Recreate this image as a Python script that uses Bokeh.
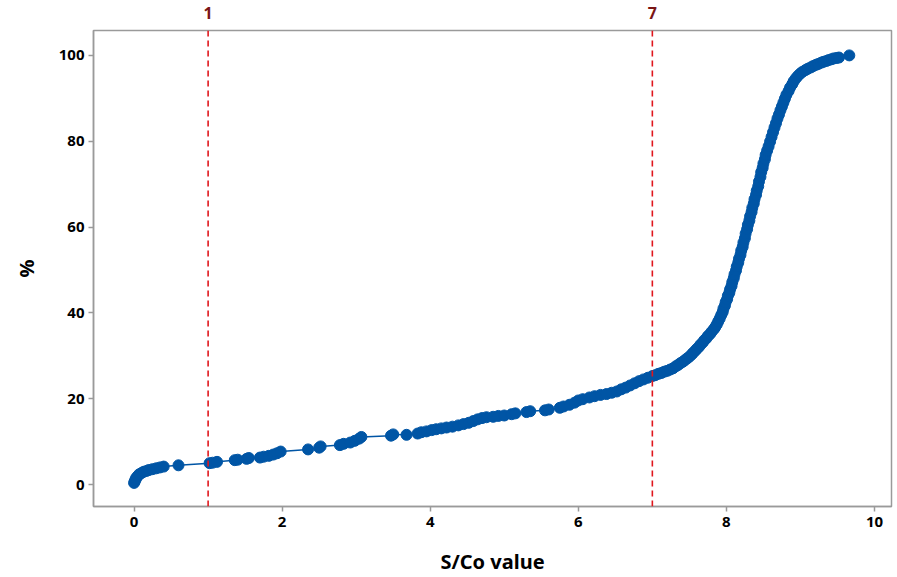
from bokeh.plotting import figure
from bokeh.models import LinearAxis, FixedTicker, Span, Range1d
from bokeh.embed import file_html
from bokeh.resources import INLINE

# S/Co values (sorted) and cumulative percent
sco = [0.00, 0.01, 0.02, 0.03, 0.05, 0.07, 0.10, 0.13, 0.17, 0.20, 0.25, 0.30, 0.35, 0.40,
       0.60, 1.02, 1.06, 1.12, 1.36, 1.40, 1.52, 1.55, 1.70, 1.75, 1.82, 1.88, 1.93, 1.98,
       2.35, 2.50, 2.52, 2.78, 2.83, 2.92, 2.98, 3.04, 3.07, 3.47, 3.50, 3.68, 3.83, 3.88,
       3.95, 4.02, 4.08, 4.15, 4.22, 4.30, 4.38, 4.45, 4.52, 4.58, 4.64, 4.70, 4.76, 4.85,
       4.92, 5.00, 5.10, 5.15, 5.30, 5.35, 5.55, 5.60, 5.75, 5.80, 5.88, 5.95, 6.00, 6.06,
       6.15, 6.22, 6.30, 6.38, 6.45, 6.52, 6.58, 6.64, 6.70, 6.76, 6.82, 6.88, 6.94, 7.00,
       7.04, 7.08, 7.12, 7.16, 7.20, 7.24, 7.28, 7.32, 7.35, 7.38, 7.41, 7.44, 7.47, 7.50,
       7.53, 7.55, 7.58, 7.60, 7.63, 7.65, 7.68, 7.70, 7.73, 7.75, 7.78, 7.80, 7.83, 7.85,
       7.87, 7.89, 7.91, 7.93, 7.95, 7.96, 7.98, 7.99, 8.01, 8.02, 8.04, 8.05, 8.07, 8.08,
       8.10, 8.11, 8.13, 8.14, 8.16, 8.17, 8.19, 8.20, 8.22, 8.23, 8.25, 8.26, 8.28, 8.29,
       8.31, 8.32, 8.34, 8.35, 8.37, 8.38, 8.40, 8.41, 8.43, 8.44, 8.46, 8.47, 8.49, 8.50,
       8.52, 8.53, 8.55, 8.57, 8.59, 8.61, 8.63, 8.65, 8.67, 8.69, 8.71, 8.73, 8.75, 8.77,
       8.79, 8.81, 8.84, 8.86, 8.89, 8.91, 8.94, 8.97, 9.00, 9.03, 9.07, 9.10, 9.14, 9.17,
       9.21, 9.24, 9.28, 9.31, 9.35, 9.38, 9.42, 9.45, 9.49, 9.52, 9.66]
pct = [0.4, 0.8, 1.2, 1.6, 2.0, 2.4, 2.7, 3.0, 3.2, 3.4, 3.6, 3.8, 4.0, 4.2,
       4.5, 5.0, 5.1, 5.3, 5.7, 5.8, 6.0, 6.2, 6.3, 6.5, 6.7, 7.0, 7.3, 7.7,
       8.2, 8.6, 8.9, 9.2, 9.5, 9.8, 10.2, 10.7, 11.1, 11.4, 11.7, 11.6, 11.9, 12.2,
       12.4, 12.7, 12.9, 13.1, 13.3, 13.5, 13.8, 14.1, 14.4, 14.8, 15.2, 15.5, 15.7, 15.8,
       16.0, 16.1, 16.4, 16.6, 16.9, 17.1, 17.3, 17.5, 17.9, 18.2, 18.6, 19.1, 19.6, 19.9,
       20.3, 20.6, 20.9, 21.1, 21.4, 21.7, 22.2, 22.6, 23.1, 23.6, 24.1, 24.5, 24.9, 25.3,
       25.5, 25.8, 26.0, 26.3, 26.5, 26.8, 27.1, 27.6, 27.9, 28.3, 28.6, 29.0, 29.4, 29.8,
       30.3, 30.7, 31.2, 31.6, 32.1, 32.6, 33.1, 33.6, 34.1, 34.6, 35.1, 35.6, 36.2, 36.7,
       37.3, 38.0, 38.7, 39.5, 40.2, 41.0, 41.7, 42.5, 43.2, 44.0, 44.7, 45.5, 46.3, 47.2,
       48.1, 49.0, 49.9, 50.8, 51.7, 52.6, 53.5, 54.5, 55.4, 56.4, 57.4, 58.5, 59.5, 60.5,
       61.5, 62.5, 63.5, 64.5, 65.5, 66.5, 67.5, 68.5, 69.5, 70.6, 71.7, 72.8, 73.8, 74.8,
       75.8, 76.8, 77.8, 78.8, 79.9, 81.0, 82.1, 83.2, 84.2, 85.3, 86.2, 87.2, 88.1, 89.0,
       89.9, 90.8, 91.7, 92.5, 93.3, 94.0, 94.7, 95.3, 95.8, 96.2, 96.6, 96.9, 97.2, 97.5,
       97.8, 98.0, 98.3, 98.5, 98.7, 98.9, 99.1, 99.3, 99.4, 99.5, 100.0]

cutoffs = [1, 7]
x_ticks = [0, 2, 4, 6, 8, 10]
y_ticks = [0, 20, 40, 60, 80, 100]

FONT = "Noto Sans"
BLUE = "#0055a5"
GRAY = "#9a9a9a"

p = figure(width=897, height=577, output_backend="svg", toolbar_location=None,
           x_range=Range1d(-0.548, 10.23), y_range=Range1d(-5.1, 105.8))
p.min_border_left = 93
p.min_border_right = 6
p.min_border_top = 30
p.min_border_bottom = 69
p.background_fill_color = "white"
p.border_fill_color = "white"
p.outline_line_color = GRAY
p.outline_line_width = 1.5
p.xgrid.visible = False
p.ygrid.visible = False

for ax, ticks in ((p.xaxis[0], x_ticks), (p.yaxis[0], y_ticks)):
    ax.ticker = FixedTicker(ticks=ticks)
    ax.minor_tick_line_color = None
    ax.major_tick_in = 0
    ax.major_tick_out = 5
    ax.major_tick_line_color = GRAY
    ax.major_tick_line_width = 1.5
    ax.axis_line_color = GRAY
    ax.axis_line_width = 1.5
    ax.major_label_text_font = FONT
    ax.major_label_text_font_style = "bold"
    ax.major_label_text_font_size = "15px"
    ax.major_label_text_color = "black"
    ax.axis_label_text_font = FONT
    ax.axis_label_text_font_style = "bold"
    ax.axis_label_text_font_size = "20px"
    ax.axis_label_text_color = "black"

p.xaxis.axis_label = "S/Co value"
p.yaxis.axis_label = "%"
p.xaxis.major_label_standoff = 5
p.xaxis.axis_label_standoff = 18
p.yaxis.major_label_standoff = 4
p.yaxis.axis_label_standoff = 16

top = LinearAxis(ticker=FixedTicker(ticks=cutoffs))
top.axis_line_color = None
top.major_tick_line_color = None
top.minor_tick_line_color = None
top.major_label_standoff = 6
top.major_label_text_font = FONT
top.major_label_text_font_style = "bold"
top.major_label_text_font_size = "16px"
top.major_label_text_color = "#7a1515"
p.add_layout(top, "above")

for c in cutoffs:
    p.add_layout(Span(location=c, dimension="height", line_color="#e0161c",
                      line_width=1.6, line_dash="6 4"))

p.line(sco, pct, line_color=BLUE, line_width=1.5)
p.scatter(sco, pct, size=11, fill_color=BLUE, line_color=BLUE)

open("out.html", "w").write(file_html(p, INLINE))
